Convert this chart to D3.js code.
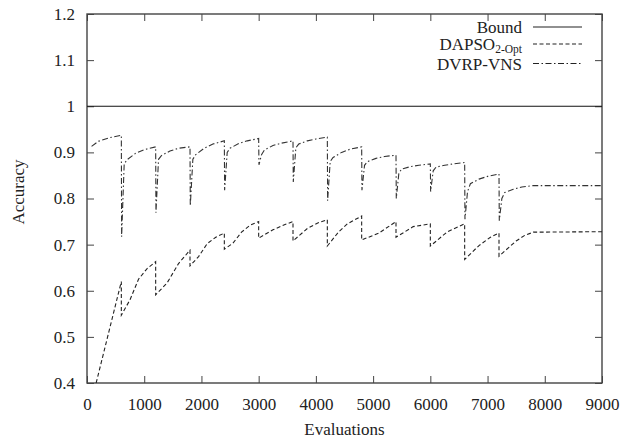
<!DOCTYPE html>
<html><head><meta charset="utf-8">
<script src="https://cdn.jsdelivr.net/npm/d3@7"></script>
<style>body{margin:0;background:#fff}svg{display:block}text{font-family:"Liberation Serif","Times New Roman",serif;fill:#222}</style>
</head><body><svg id="c" width="624" height="439"></svg>
<script>
const xTicks = [0,1000,2000,3000,4000,5000,6000,7000,8000,9000];
const yTicks = [0.4,0.5,0.6,0.7,0.8,0.9,1,1.1,1.2];
const yTickLabels = ["0.4","0.5","0.6","0.7","0.8","0.9","1","1.1","1.2"];
const boundX = [0, 9000];
const boundY = [1, 1];
const vnsX = [80,200,400,600,605, 650,700,850,1000,1200,1205, 1250,1300,1450,1600,1800,1805, 1850,1900,2050,2200,2400,2405, 2450,2500,2650,2800,3000,3005, 3050,3100,3250,3400,3600,3605, 3650,3700,3850,4000,4200,4205, 4250,4300,4450,4600,4800,4805, 4850,4900,5050,5200,5400,5405, 5450,5500,5650,5800,6000,6005, 6050,6100,6250,6400,6600,6605, 6650,6700,6850,7000,7200,7205, 7250,7300,7450,7600,7800,9000];
const vnsY = [0.913,0.924,0.932,0.937,0.717, 0.875,0.884,0.898,0.906,0.912,0.769, 0.885,0.893,0.903,0.909,0.912,0.784, 0.885,0.895,0.909,0.918,0.925,0.818, 0.900,0.909,0.919,0.925,0.930,0.873, 0.895,0.905,0.915,0.920,0.925,0.836, 0.910,0.918,0.925,0.929,0.933,0.795, 0.880,0.889,0.900,0.907,0.912,0.818, 0.872,0.880,0.887,0.891,0.894,0.800, 0.855,0.864,0.869,0.872,0.875,0.815, 0.860,0.868,0.872,0.875,0.878,0.755, 0.815,0.832,0.842,0.848,0.853,0.752, 0.800,0.813,0.820,0.825,0.828,0.828];
const dapsoX = [160,600,600, 750,900,1050,1200,1200, 1400,1600,1800,1800, 1950,2100,2250,2400,2400, 2550,2700,2850,3000,3000, 3250,3450,3600,3600, 3850,4050,4200,4200, 4400,4550,4800,4800, 5100,5400,5400, 5700,6000,6000, 6300,6600,6600, 6850,7050,7200,7200, 7500,7650,7800,9000];
const dapsoY = [0.400,0.620,0.547, 0.580,0.625,0.648,0.663,0.591, 0.617,0.659,0.688,0.654, 0.674,0.702,0.716,0.725,0.690, 0.703,0.727,0.742,0.750,0.714, 0.732,0.743,0.750,0.708, 0.735,0.748,0.754,0.697, 0.728,0.745,0.762,0.710, 0.725,0.750,0.716, 0.739,0.745,0.697, 0.728,0.745,0.668, 0.698,0.716,0.725,0.675, 0.708,0.720,0.727,0.728];

const svg = d3.select("#c");
const L=87, R=602, T=14, B=383;
const x = d3.scaleLinear().domain([0,9000]).range([L,R]);
const y = d3.scaleLinear().domain([0.4,1.2]).range([B,T]);

svg.append("defs").append("clipPath").attr("id","clip").append("rect").attr("x",L).attr("y",T).attr("width",R-L).attr("height",B-T);

const tk = 7;
const axB = svg.append("g").attr("transform",`translate(0,${B})`).call(d3.axisBottom(x).tickValues(xTicks).tickSize(-tk).tickPadding(tk+8).tickFormat(d3.format("d")));
const axT = svg.append("g").attr("transform",`translate(0,${T})`).call(d3.axisTop(x).tickValues(xTicks).tickSize(-tk).tickFormat(""));
const axL = svg.append("g").attr("transform",`translate(${L},0)`).call(d3.axisLeft(y).tickValues(yTicks).tickSize(-tk).tickPadding(tk+5).tickFormat((d,i)=>yTickLabels[i]));
const axR = svg.append("g").attr("transform",`translate(${R},0)`).call(d3.axisRight(y).tickValues(yTicks).tickSize(-tk).tickFormat(""));
[axB,axT,axL,axR].forEach(a=>{a.select(".domain").remove();a.selectAll(".tick line").attr("stroke","#444").attr("stroke-width",1);a.selectAll("text").attr("font-size",17).attr("fill","#222").style("font-family","Liberation Serif");});

svg.append("rect").attr("x",L).attr("y",T).attr("width",R-L).attr("height",B-T).attr("fill","none").attr("stroke","#444").attr("stroke-width",1.4);

const line = d3.line().x(d=>x(d[0])).y(d=>y(d[1]));
const g = svg.append("g").attr("clip-path","url(#clip)");
g.append("path").attr("d",line(d3.zip(boundX,boundY))).attr("fill","none").attr("stroke","#111").attr("stroke-width",1.2);
g.append("path").attr("d",line(d3.zip(dapsoX,dapsoY))).attr("fill","none").attr("stroke","#222").attr("stroke-width",1.1).attr("stroke-dasharray","4,2.5");
g.append("path").attr("d",line(d3.zip(vnsX,vnsY))).attr("fill","none").attr("stroke","#333").attr("stroke-width",1.1).attr("stroke-dasharray","6,2.5,1.5,2.5");

// legend
const lg = svg.append("g");
const items = [
  {name:"Bound", dash:null, y:27},
  {name:"DAPSO", sub:"2-Opt", dash:"4,2.5", y:44},
  {name:"DVRP-VNS", dash:"6,2.5,1.5,2.5", y:63.5}
];
items.forEach(it=>{
  const t = lg.append("text").attr("x",522).attr("y",it.y+6).attr("text-anchor","end").attr("font-size",17);
  t.append("tspan").text(it.name);
  if(it.sub) t.append("tspan").attr("font-size",11.5).attr("dy",2.5).text(it.sub);
  lg.append("line").attr("x1",533).attr("x2",582).attr("y1",it.y).attr("y2",it.y).attr("stroke","#222").attr("stroke-width",1.1).attr("stroke-dasharray",it.dash);
});

svg.append("text").attr("x",(L+R)/2).attr("y",435).attr("text-anchor","middle").attr("font-size",17).text("Evaluations");
svg.append("text").attr("transform","translate(24,192) rotate(-90)").attr("text-anchor","middle").attr("font-size",17).text("Accuracy");
</script></body></html>
